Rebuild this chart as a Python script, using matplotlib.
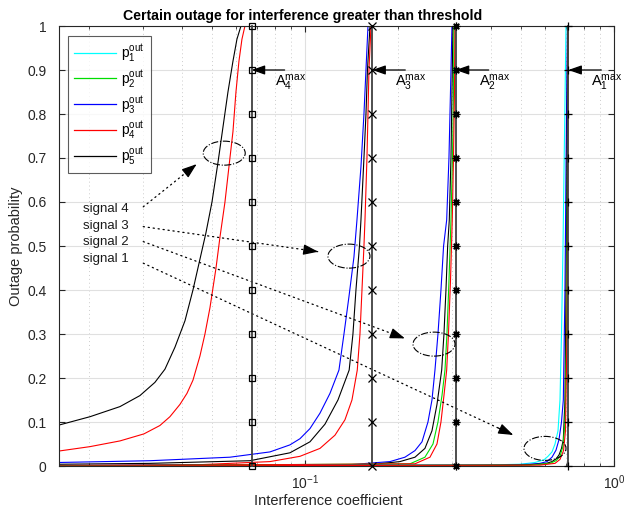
import numpy as np
import matplotlib
matplotlib.use("Agg")
import matplotlib.pyplot as plt
from matplotlib.patches import Ellipse

plt.rcParams['font.family'] = ['Liberation Sans', 'DejaVu Sans']
plt.rcParams['mathtext.fontset'] = 'custom'
plt.rcParams['mathtext.rm'] = 'Liberation Sans'
plt.rcParams['mathtext.it'] = 'Liberation Sans'

# ---- thresholds (interference coefficient where outage becomes certain) ----
a_max = [0.7114, 0.3074, 0.1651, 0.0672]          # A1..A4
a_markers = ['+', (8, 2, 0), 'x', 's']
marker_levels = [0.0, 0.1, 0.2, 0.3, 0.4, 0.5, 0.6, 0.7, 0.8, 0.9, 1.0]

x_min, x_max = 0.016, 1.0

# ---- outage curves, one (x, p) pair of lists per signal band ----
# signal 4 band
p5_s4_x = [0.01599, 0.02015, 0.02520, 0.02924, 0.03269, 0.03523, 0.03796, 0.04090, 0.04341, 0.04573,
           0.04782, 0.05002, 0.05231, 0.05428, 0.05634, 0.05848, 0.06024, 0.06207, 1.0]
p5_s4_y = [0.093, 0.112, 0.135, 0.160, 0.190, 0.220, 0.270, 0.330, 0.400, 0.470,
           0.530, 0.600, 0.690, 0.770, 0.850, 0.920, 0.970, 1.000, 1.000]
p4_s4_x = [0.01599, 0.02015, 0.02520, 0.03013, 0.03393, 0.03656, 0.03940, 0.04151, 0.04341, 0.04573, 0.04747,
           0.04928, 0.05154, 0.05308, 0.05510, 0.05718, 0.05848, 0.05980, 0.06115, 0.06253, 0.06394, 1.0]
p4_s4_y = [0.034, 0.044, 0.057, 0.073, 0.092, 0.112, 0.140, 0.165, 0.195, 0.250, 0.300,
           0.360, 0.450, 0.520, 0.600, 0.700, 0.760, 0.850, 0.920, 0.970, 1.000, 1.000]

# signal 3 band
p3_s3_x = [0.01599, 0.03150, 0.05718, 0.07702, 0.08942, 0.09634, 0.10380, 0.11183, 0.12048, 0.12882,
           0.13373, 0.13880, 0.14405, 0.14732, 0.15177, 0.15520, 0.15755, 0.15993, 1.0]
p3_s3_y = [0.008, 0.012, 0.020, 0.032, 0.048, 0.062, 0.085, 0.120, 0.165, 0.218,
           0.300, 0.385, 0.475, 0.559, 0.680, 0.800, 0.900, 1.000, 1.000]
p5_s3_x = [0.01599, 0.03150, 0.06637, 0.08942, 0.10380, 0.11606, 0.12787, 0.13901, 0.14298, 0.14622,
           0.15010, 0.15177, 0.15520, 0.15755, 0.15930, 0.16234, 1.0]
p5_s3_y = [0.004, 0.006, 0.012, 0.030, 0.055, 0.095, 0.150, 0.218, 0.300, 0.400,
           0.500, 0.559, 0.700, 0.800, 0.900, 1.000, 1.000]
p4_s3_x = [0.01599, 0.04573, 0.07702, 0.09634, 0.11183, 0.12505, 0.13471, 0.14193, 0.14766, 0.15066,
           0.15293, 0.15520, 0.15639, 0.15871, 0.15993, 0.16111, 0.16355, 1.0]
p4_s3_y = [0.001, 0.003, 0.010, 0.022, 0.040, 0.070, 0.105, 0.150, 0.218, 0.300,
           0.400, 0.500, 0.559, 0.700, 0.800, 0.900, 1.000, 1.000]

# signal 2 band
p3_s2_x = [0.01599, 0.13983, 0.18836, 0.21063, 0.22699, 0.23917, 0.25004, 0.25763, 0.26343, 0.26939,
           0.27547, 0.28090, 0.28745, 0.29239, 0.29571, 0.29900, 1.0]
p3_s2_y = [0.001, 0.003, 0.010, 0.020, 0.035, 0.055, 0.100, 0.150, 0.218, 0.300,
           0.400, 0.500, 0.559, 0.700, 0.850, 1.000, 1.000]
p5_s2_x = [0.01599, 0.16230, 0.20292, 0.22699, 0.24447, 0.25763, 0.26741, 0.27696, 0.28168, 0.28593,
           0.28957, 0.29309, 0.29680, 0.29900, 0.30128, 1.0]
p5_s2_y = [0.001, 0.003, 0.010, 0.020, 0.040, 0.080, 0.140, 0.218, 0.300, 0.400,
           0.500, 0.559, 0.700, 0.850, 1.000, 1.000]
p2_s2_x = [0.01599, 0.21870, 0.24447, 0.25958, 0.26939, 0.27756, 0.28383, 0.28804, 0.29239, 0.29680,
           0.30013, 0.30242, 0.30351, 1.0]
p2_s2_y = [0.000, 0.005, 0.020, 0.050, 0.100, 0.160, 0.218, 0.300, 0.420, 0.559,
           0.700, 0.850, 1.000, 1.000]
p4_s2_x = [0.01599, 0.22699, 0.25379, 0.26741, 0.27547, 0.28168, 0.28745, 0.29131, 0.29571, 0.29966,
           0.30242, 0.30465, 0.30576, 1.0]
p4_s2_y = [0.000, 0.005, 0.020, 0.050, 0.100, 0.160, 0.218, 0.300, 0.420, 0.559,
           0.700, 0.850, 1.000, 1.000]

# signal 1 band
p1_s1_x = [0.01599, 0.36832, 0.49635, 0.55527, 0.59360, 0.61152, 0.63007, 0.64435, 0.65890, 0.66865,
           0.67624, 0.68391, 0.69152, 0.69935, 1.0]
p1_s1_y = [0.000, 0.002, 0.004, 0.008, 0.014, 0.022, 0.032, 0.050, 0.080, 0.150,
           0.300, 0.500, 0.750, 1.000, 1.000]
p3_s1_x = [0.01599, 0.42774, 0.53470, 0.57610, 0.60704, 0.63007, 0.64912, 0.66374, 0.67624, 0.68547,
           0.69406, 0.70193, 0.70712, 1.0]
p3_s1_y = [0.000, 0.002, 0.004, 0.006, 0.010, 0.020, 0.036, 0.060, 0.100, 0.150,
           0.400, 0.800, 1.000, 1.000]
p5_s1_x = [0.01599, 0.49635, 0.59799, 0.63007, 0.64912, 0.66374, 0.67624, 0.68547, 0.69406, 0.70193,
           0.70826, 1.0]
p5_s1_y = [0.000, 0.002, 0.005, 0.010, 0.016, 0.025, 0.040, 0.060, 0.150, 0.500,
           1.000, 1.000]
p2_s1_x = [0.01599, 0.53470, 0.62075, 0.64912, 0.66865, 0.68391, 0.69406, 0.70193, 0.70712, 0.70973, 1.0]
p2_s1_y = [0.000, 0.002, 0.006, 0.012, 0.022, 0.045, 0.100, 0.300, 0.700, 1.000, 1.000]
p4_s1_x = [0.01599, 0.57610, 0.64435, 0.66865, 0.68657, 0.69663, 0.70452, 0.70875, 0.71088, 1.0]
p4_s1_y = [0.000, 0.002, 0.006, 0.015, 0.035, 0.080, 0.300, 0.700, 1.000, 1.000]

series_colors = {'p1': 'cyan', 'p2': '#00dd00', 'p3': 'blue', 'p4': 'red', 'p5': 'black'}
legend_labels = [r'$\mathrm{p}_1^{\mathrm{out}}$', r'$\mathrm{p}_2^{\mathrm{out}}$',
                 r'$\mathrm{p}_3^{\mathrm{out}}$', r'$\mathrm{p}_4^{\mathrm{out}}$',
                 r'$\mathrm{p}_5^{\mathrm{out}}$']

curves = [
    ('p5', p5_s4_x, p5_s4_y), ('p4', p4_s4_x, p4_s4_y),
    ('p3', p3_s3_x, p3_s3_y), ('p5', p5_s3_x, p5_s3_y), ('p4', p4_s3_x, p4_s3_y),
    ('p3', p3_s2_x, p3_s2_y), ('p5', p5_s2_x, p5_s2_y), ('p2', p2_s2_x, p2_s2_y), ('p4', p4_s2_x, p4_s2_y),
    ('p1', p1_s1_x, p1_s1_y), ('p3', p3_s1_x, p3_s1_y), ('p5', p5_s1_x, p5_s1_y),
    ('p2', p2_s1_x, p2_s1_y), ('p4', p4_s1_x, p4_s1_y),
]

fig = plt.figure(figsize=(6.25, 5.14), dpi=100)
ax = fig.add_axes([59 / 625, 48 / 514, 555 / 625, 440 / 514])

for name, xs, ys in curves:
    ax.plot(xs, ys, color=series_colors[name], lw=0.8, solid_joinstyle='round')

# threshold lines with markers
for a, m in zip(a_max, a_markers):
    ax.plot([a] * len(marker_levels), marker_levels, color='0.25', lw=1.3,
            marker=m, mec='black', mfc='none', ms=4.5 if m == 's' else 5.5, mew=0.9,
            clip_on=False, zorder=5)

ax.set_xscale('log')
ax.set_xlim(x_min, x_max)
ax.set_ylim(0, 1)
ax.set_yticks(np.arange(0, 1.01, 0.1))
ax.set_yticklabels(['0', '0.1', '0.2', '0.3', '0.4', '0.5', '0.6', '0.7', '0.8', '0.9', '1'])
ax.set_xticks([0.1, 1.0])
ax.set_xticklabels([r'$\mathrm{10}^{\mathrm{-1}}$', r'$\mathrm{10}^{\mathrm{0}}$'])
ax.tick_params(which='both', direction='in', top=True, right=True, labelsize=10, colors='0.15')
ax.tick_params(axis='y', pad=9)
ax.tick_params(axis='x', pad=5)
ax.tick_params(which='major', length=4)
ax.tick_params(which='minor', length=2.5)
ax.grid(True, which='major', color='0.88', lw=0.8)
ax.grid(True, which='minor', axis='x', color='0.8', lw=0.7, ls=(0, (1, 3)))
ax.set_axisbelow(True)
for s in ax.spines.values():
    s.set_color('0.15')
    s.set_linewidth(0.8)

fig.text(303 / 625, 1 - 16 / 514, 'Certain outage for interference greater than threshold',
         fontsize=10.2, fontweight='bold', ha='center', va='center')
fig.text(328 / 625, 1 - 501 / 514, 'Interference coefficient', fontsize=10.5, color='0.15',
         ha='center', va='center')
ax.set_ylabel('Outage probability', fontsize=10.5, color='0.15', labelpad=3)

# legend
handles = [plt.Line2D([], [], color=series_colors[k], lw=0.9) for k in ['p1', 'p2', 'p3', 'p4', 'p5']]
leg = ax.legend(handles, legend_labels, loc='upper left', bbox_to_anchor=(0.016, 0.977),
                borderaxespad=0, fontsize=10, frameon=True, fancybox=False, handlelength=3.0,
                labelspacing=0.3, borderpad=0.45, handletextpad=0.4)
leg.get_frame().set_edgecolor('0.2')
leg.get_frame().set_linewidth(0.8)

# A_max labels with arrows
for i, a in enumerate(a_max):
    ax.annotate('', xy=(a, 0.9), xytext=(a * 1.279, 0.9),
                arrowprops=dict(arrowstyle='-|>,head_length=0.8,head_width=0.28',
                                color='black', lw=0.9, shrinkA=0, shrinkB=0), zorder=6)
    ax.text(a * 1.187, 0.862, r'$\mathrm{A}_{%d}^{\mathrm{max}}$' % (i + 1), fontsize=10.5,
            va='baseline', ha='left', zorder=6)

# signal labels, dotted pointers and ellipses
lx0, lx1 = np.log10(x_min), np.log10(x_max)


def frac_x(x):
    return (np.log10(x) - lx0) / (lx1 - lx0)


signal_names = ['signal 4', 'signal 3', 'signal 2', 'signal 1']
text_y = [0.585, 0.545, 0.509, 0.470]
tails = [(0.02997, 0.589), (0.02997, 0.544), (0.02997, 0.510), (0.02997, 0.461)]
tips = [(0.04461, 0.686), (0.1104, 0.487), (0.2106, 0.290), (0.4721, 0.0705)]
ell_c = [(0.0548, 0.711), (0.1388, 0.477), (0.2616, 0.277), (0.598, 0.040)]

for name, ty in zip(signal_names, text_y):
    ax.text(0.01913, ty, name, fontsize=9.5, va='center', ha='left', color='0.1')
for (tx, ty), (hx, hy) in zip(tails, tips):
    ax.annotate('', xy=(hx, hy), xytext=(tx, ty),
                arrowprops=dict(arrowstyle='-', color='black', lw=0.9, ls=(0, (1, 3)),
                                shrinkA=0, shrinkB=0))
    ax.annotate('', xy=(hx, hy), xytext=(hx / (hx / tx) ** 0.04, hy - (hy - ty) * 0.04),
                arrowprops=dict(arrowstyle='-|>,head_length=0.9,head_width=0.32',
                                color='black', lw=0.9, shrinkA=0, shrinkB=0))
for cx, cy in ell_c:
    e = Ellipse((frac_x(cx), cy), width=42 / 555, height=24 / 440, transform=ax.transAxes,
                fill=False, ec='black', lw=0.8, ls='-.', zorder=6)
    ax.add_patch(e)

fig.savefig('out.png', dpi=100)
